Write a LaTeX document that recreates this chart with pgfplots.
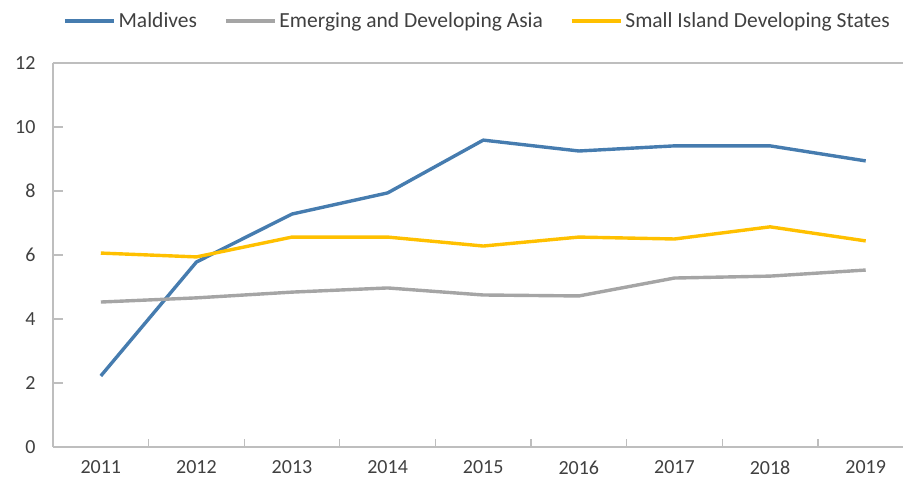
\documentclass[border=0pt]{standalone}
\usepackage{fontspec}
\setmainfont{Carlito}
\usepackage{pgfplots}
\pgfplotsset{compat=1.18}
\definecolor{mvblue}{RGB}{70,124,175}
\definecolor{asiagray}{RGB}{165,165,165}
\definecolor{sidsyellow}{RGB}{255,192,0}
\definecolor{axisgray}{RGB}{190,190,190}
\definecolor{txtgray}{RGB}{64,64,64}

\begin{document}
\begin{tikzpicture}
\begin{axis}[
    name=ax,
    at={(0,0)}, anchor=south west,
    scale only axis,
    width=850pt, height=384pt,
    xmin=2010.5, xmax=2019.39,
    ymin=0, ymax=12,
    xtick={2011,...,2019},
    minor xtick={2011.5,2012.5,...,2018.5},
    ytick={0,2,...,12},
    xticklabel style={/pgf/number format/1000 sep={}, yshift=-10pt},
    yticklabel style={xshift=-14pt},
    /pgf/number format/assume math mode=true,
    axis x line=box, axis y line=left,
    axis line style={axisgray, line width=1.6pt, -},
    tick align=inside,
    xtick pos=left, ytick pos=left,
    major x tick style={draw=none},
    minor x tick style={axisgray, line width=1.2pt},
    minor tick length=8pt,
    major y tick style={axisgray, line width=1.2pt},
    major tick length=10pt,
    tick label style={font=\fontsize{20}{24}\selectfont, text=txtgray},
    legend style={draw=none, fill=none, at={(0.5,1.109)}, anchor=center,
        font=\fontsize{21.5}{25}\selectfont, text=txtgray,
        nodes={inner xsep=3pt},
        /tikz/every even column/.append style={column sep=24pt}},
    legend columns=3,
    legend cell align=left,
    legend image code/.code={\draw[#1] (0pt,0pt) -- (49pt,0pt);},
    every axis plot/.append style={line width=3.4pt, line join=round, mark=none},
]
\addplot[mvblue] coordinates {
    (2011,2.22) (2012,5.78) (2013,7.28) (2014,7.94) (2015,9.59)
    (2016,9.25) (2017,9.41) (2018,9.41) (2019,8.94)
};
\addlegendentry{Maldives}
\addplot[asiagray] coordinates {
    (2011,4.53) (2012,4.66) (2013,4.84) (2014,4.97) (2015,4.75)
    (2016,4.72) (2017,5.28) (2018,5.34) (2019,5.53)
};
\addlegendentry{Emerging and Developing Asia}
\addplot[sidsyellow] coordinates {
    (2011,6.06) (2012,5.94) (2013,6.56) (2014,6.56) (2015,6.28)
    (2016,6.56) (2017,6.50) (2018,6.88) (2019,6.44)
};
\addlegendentry{Small Island Developing States}
\end{axis}
\pgfresetboundingbox
\path (-53pt,-39pt) rectangle (850pt,447pt);
\end{tikzpicture}
\end{document}
